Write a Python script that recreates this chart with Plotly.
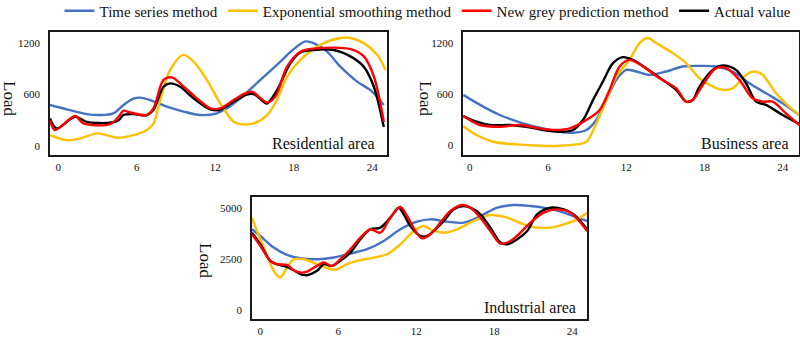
import plotly.graph_objects as go

# ---------------- data ----------------
series_names = ["Time series method", "Exponential smoothing method",
                "New grey prediction method", "Actual value"]
series_colors = ["#4472C4", "#FFC000", "#FF0000", "#000000"]

x_ticks = [0, 6, 12, 18, 24]
res_y_ticks = [0, 600, 1200]
bus_y_ticks = [0, 600, 1200]
ind_y_ticks = [0, 2500, 5000]
panel_titles = ["Residential area", "Business area", "Industrial area"]

# Residential area
res_ts_x = [-0.64, 0.64, 2.17, 3.19, 4.21, 4.98, 5.74, 6.25, 7.02, 8.30, 9.57, 10.85, 12.13, 12.89,
            13.91, 15.45, 16.98, 18.0, 18.89, 19.53, 20.55, 21.57, 22.85, 23.87, 24.89]
res_ts = [477, 426, 370, 360, 380, 477, 551, 563, 535, 457, 400, 360, 380, 438,
          555, 770, 985, 1130, 1220, 1200, 1100, 925, 750, 650, 477]
res_es_x = [-0.64, 0.64, 1.66, 2.94, 3.70, 4.47, 5.74, 6.77, 7.28, 7.79, 8.55, 9.57, 10.34, 11.36,
            12.38, 13.40, 13.91, 14.93, 15.96, 16.72, 17.49, 18.51, 20.04, 21.57, 22.34, 23.36, 24.38, 25.02]
res_es = [125, 66, 86, 145, 125, 94, 125, 184, 262, 535, 887, 1063, 985, 770,
          496, 281, 254, 262, 360, 535, 810, 1005, 1180, 1260, 1260, 1200, 1063, 887]
res_gp_x = [-0.64, -0.26, 1.28, 1.91, 3.96, 4.60, 4.98, 5.49, 6.77, 7.28, 8.04, 8.68, 9.45, 10.59,
            11.62, 12.38, 13.40, 14.17, 14.81, 15.32, 15.96, 16.59, 17.49, 18.51, 19.79, 22.34, 23.36, 24.13, 24.89]
res_gp = [300, 185, 348, 262, 254, 340, 410, 390, 360, 440, 770, 800, 710, 555,
          438, 438, 535, 605, 633, 575, 505, 575, 925, 1100, 1140, 1130, 1045, 810, 280]
res_av_x = [-0.64, -0.13, 1.28, 2.17, 3.96, 4.60, 4.98, 5.74, 6.77, 7.28, 8.04, 8.55, 9.32, 10.34,
            11.62, 12.38, 13.40, 14.42, 14.93, 15.70, 15.96, 16.72, 17.74, 18.51, 19.53, 21.06, 22.34, 23.36, 24.13, 24.89]
res_av = [320, 203, 340, 280, 270, 300, 360, 370, 360, 420, 690, 730, 690, 555,
          425, 420, 515, 600, 605, 515, 495, 650, 965, 1090, 1120, 1120, 1045, 925, 690, 220]

# Business area
bus_ts_x = [-0.51, 1.02, 2.30, 4.08, 5.62, 6.89, 7.91, 8.94, 9.70, 10.47, 11.23, 12.0, 12.77, 13.79,
            15.06, 16.34, 17.62, 18.89, 20.17, 21.45, 22.72, 24.0, 25.27]
bus_ts = [590, 452, 354, 255, 196, 157, 145, 177, 295, 530, 766, 884, 865, 825,
          865, 924, 931, 924, 865, 727, 609, 491, 354]
bus_es_x = [-0.51, 0.51, 1.79, 3.57, 5.36, 6.89, 8.17, 8.94, 9.70, 10.47, 11.23, 12.25, 13.02, 13.66,
            14.30, 15.57, 16.59, 17.62, 18.64, 19.53, 20.17, 21.19, 21.83, 22.47, 23.49, 24.51, 25.27]
bus_es = [224, 118, 39, 8, -8, -8, 8, 39, 255, 530, 806, 1002, 1199, 1258,
          1199, 1081, 963, 786, 688, 648, 668, 825, 865, 825, 609, 452, 354]
bus_gp_x = [-0.51, 0.77, 2.30, 3.83, 5.36, 6.64, 7.66, 8.94, 9.96, 10.72, 11.49, 12.25, 13.28, 14.55,
            15.83, 16.59, 17.10, 17.87, 18.89, 19.66, 20.68, 21.70, 22.47, 23.23, 24.25, 25.27]
bus_gp = [342, 236, 216, 236, 196, 177, 196, 295, 413, 648, 924, 1002, 924, 786,
          668, 511, 530, 707, 904, 904, 766, 550, 511, 511, 373, 236]
bus_av_x = [-0.51, 0.51, 1.53, 3.06, 4.34, 5.62, 6.89, 7.91, 8.68, 9.45, 10.21, 10.98, 11.74, 12.51,
            13.53, 14.81, 15.83, 16.59, 17.10, 17.62, 18.64, 19.40, 20.42, 21.19, 21.96, 22.72, 24.0, 25.27]
bus_av = [342, 275, 236, 236, 216, 177, 157, 177, 295, 530, 747, 963, 1034, 1002,
          904, 766, 648, 511, 530, 688, 884, 935, 884, 727, 511, 472, 354, 248]

# Industrial area
ind_ts_x = [-0.64, 0, 1.03, 2.05, 3.08, 4.36, 5.65, 6.93, 8.21, 9.50, 10.78, 12.06, 13.09, 14.38,
            15.66, 16.94, 18.23, 19.51, 20.79, 22.08, 23.36, 24.39, 25.16]
ind_ts = [3942, 3616, 3046, 2688, 2525, 2476, 2558, 2753, 2965, 3372, 3942, 4317, 4431, 4317,
          4268, 4594, 5001, 5131, 5083, 4968, 4757, 4512, 4350]
ind_es_x = [-0.64, -0.26, 0.39, 1.03, 1.54, 2.05, 2.57, 3.34, 4.36, 5.39, 5.90, 6.67, 7.44, 8.73,
            9.75, 10.78, 11.81, 12.58, 13.09, 14.12, 15.15, 16.43, 17.71, 19.0, 20.28, 21.31, 22.33,
            23.36, 24.39, 25.16]
ind_es = [4512, 3861, 2883, 1906, 1580, 2069, 2476, 2476, 2232, 1987, 1987, 2232, 2395, 2558,
          2720, 3209, 3861, 4105, 3942, 3779, 3942, 4350, 4643, 4512, 4187, 4024, 4024,
          4187, 4431, 4757]
ind_gp_x = [-0.64, 0, 0.77, 1.28, 2.05, 2.57, 3.08, 3.59, 4.36, 4.88, 5.52, 6.16, 6.93, 7.70,
            8.47, 9.24, 10.01, 10.78, 11.29, 11.94, 12.45, 13.09, 13.86, 14.63, 15.53, 16.17, 16.94,
            17.71, 18.48, 19.25, 20.02, 20.79, 21.82, 22.85, 23.87, 25.16]
ind_gp = [3698, 3128, 2395, 2232, 2199, 1939, 1824, 1873, 2150, 2313, 2150, 2476, 2965, 3535,
          3942, 3779, 4512, 5034, 4594, 3861, 3502, 3698, 4268, 4838, 5131, 5001, 4512,
          3861, 3242, 3372, 3779, 4268, 4757, 4920, 4757, 3861]
ind_av_x = [-0.64, 0, 0.77, 1.28, 2.05, 2.57, 3.08, 3.59, 4.36, 4.88, 5.52, 6.16, 6.93, 7.70,
            8.47, 9.24, 10.01, 10.65, 11.04, 11.55, 12.32, 12.84, 13.35, 14.12, 14.89, 15.66, 16.43,
            16.94, 17.71, 18.48, 19.0, 19.77, 20.54, 21.31, 22.33, 23.36, 24.13, 25.16]
ind_av = [3779, 3209, 2395, 2232, 2101, 1939, 1743, 1694, 1906, 2232, 2150, 2395, 2802, 3454,
          3942, 4024, 4512, 5001, 4675, 4105, 3616, 3616, 3861, 4350, 4920, 5083, 4920,
          4675, 4024, 3291, 3209, 3454, 3861, 4675, 5001, 4920, 4675, 3942]

panels = [
    [(res_ts_x, res_ts), (res_es_x, res_es), (res_gp_x, res_gp), (res_av_x, res_av)],
    [(bus_ts_x, bus_ts), (bus_es_x, bus_es), (bus_gp_x, bus_gp), (bus_av_x, bus_av)],
    [(ind_ts_x, ind_ts), (ind_es_x, ind_es), (ind_gp_x, ind_gp), (ind_av_x, ind_av)],
]

# ---------------- figure ----------------
FONT = "Liberation Serif, Times New Roman, serif"
fig = go.Figure()
draw_order = [0, 1, 3, 2]  # draw red on top of black
axis_ids = [("x", "y"), ("x2", "y2"), ("x3", "y3")]
for p, panel in enumerate(panels):
    xa, ya = axis_ids[p]
    for s in draw_order:
        xs, ys = panel[s]
        fig.add_trace(go.Scatter(
            x=xs, y=ys, mode="lines", name=series_names[s],
            line=dict(color=series_colors[s], width=2.4, shape="spline", smoothing=0.9),
            xaxis=xa, yaxis=ya, showlegend=(p == 0), legendrank=s + 1,
        ))

def xa_cfg(domain, anchor, rng):
    return dict(domain=domain, anchor=anchor, range=rng, tickvals=x_ticks,
                showline=True, mirror=True, linecolor="#1a1a1a", linewidth=1.5,
                showgrid=False, zeroline=False, ticks="", ticklabelstandoff=1,
                tickfont=dict(family=FONT, size=11, color="#111"))

def ya_cfg(domain, anchor, rng, tv):
    return dict(domain=domain, anchor=anchor, range=rng, tickvals=tv,
                showline=True, mirror=True, linecolor="#1a1a1a", linewidth=1.5,
                showgrid=False, zeroline=False, ticks="", ticklabelstandoff=6,
                tickfont=dict(family=FONT, size=11, color="#111"))

top_dom = [0.541, 0.905]
bot_dom = [0.056, 0.418]
fig.update_layout(
    width=800, height=338,
    margin=dict(l=0, r=0, t=0, b=0, autoexpand=False),
    paper_bgcolor="white", plot_bgcolor="white",
    font=dict(family=FONT, color="#111"),
    xaxis=xa_cfg([0.0625, 0.484], "y", [-0.64, 25.15]),
    yaxis=ya_cfg(top_dom, "x", [-109, 1329], res_y_ticks),
    xaxis2=xa_cfg([0.579, 0.999], "y2", [-0.51, 25.27]),
    yaxis2=ya_cfg(top_dom, "x2", [-118, 1328], bus_y_ticks),
    xaxis3=xa_cfg([0.315, 0.734], "y3", [-0.64, 25.16]),
    yaxis3=ya_cfg(bot_dom, "x3", [-456, 5539], ind_y_ticks),
    legend=dict(orientation="h", x=0.535, xanchor="center", y=1 - 11 / 338, yanchor="middle",
                font=dict(family=FONT, size=15, color="#111"),
                bgcolor="rgba(0,0,0,0)", itemwidth=30, tracegroupgap=0),
)

# panel labels
label_pos = [(0.471, 0.575), (0.989, 0.575), (0.7225, 0.089)]
for (lx, ly), t in zip(label_pos, panel_titles):
    fig.add_annotation(text=t, x=lx, y=ly, xref="paper", yref="paper",
                       xanchor="right", yanchor="middle", showarrow=False,
                       font=dict(family=FONT, size=16, color="#111"))

# "Load" axis titles (rotated clockwise)
load_pos = [(9 / 800, 1 - 98 / 338), (425 / 800, 1 - 98 / 338), (206 / 800, 1 - 260 / 338)]
for lx, ly in load_pos:
    fig.add_annotation(text="Load", x=lx, y=ly, xref="paper", yref="paper",
                       xanchor="center", yanchor="middle", showarrow=False, textangle=90,
                       font=dict(family=FONT, size=17, color="#111"))

fig.write_html("out.html")
